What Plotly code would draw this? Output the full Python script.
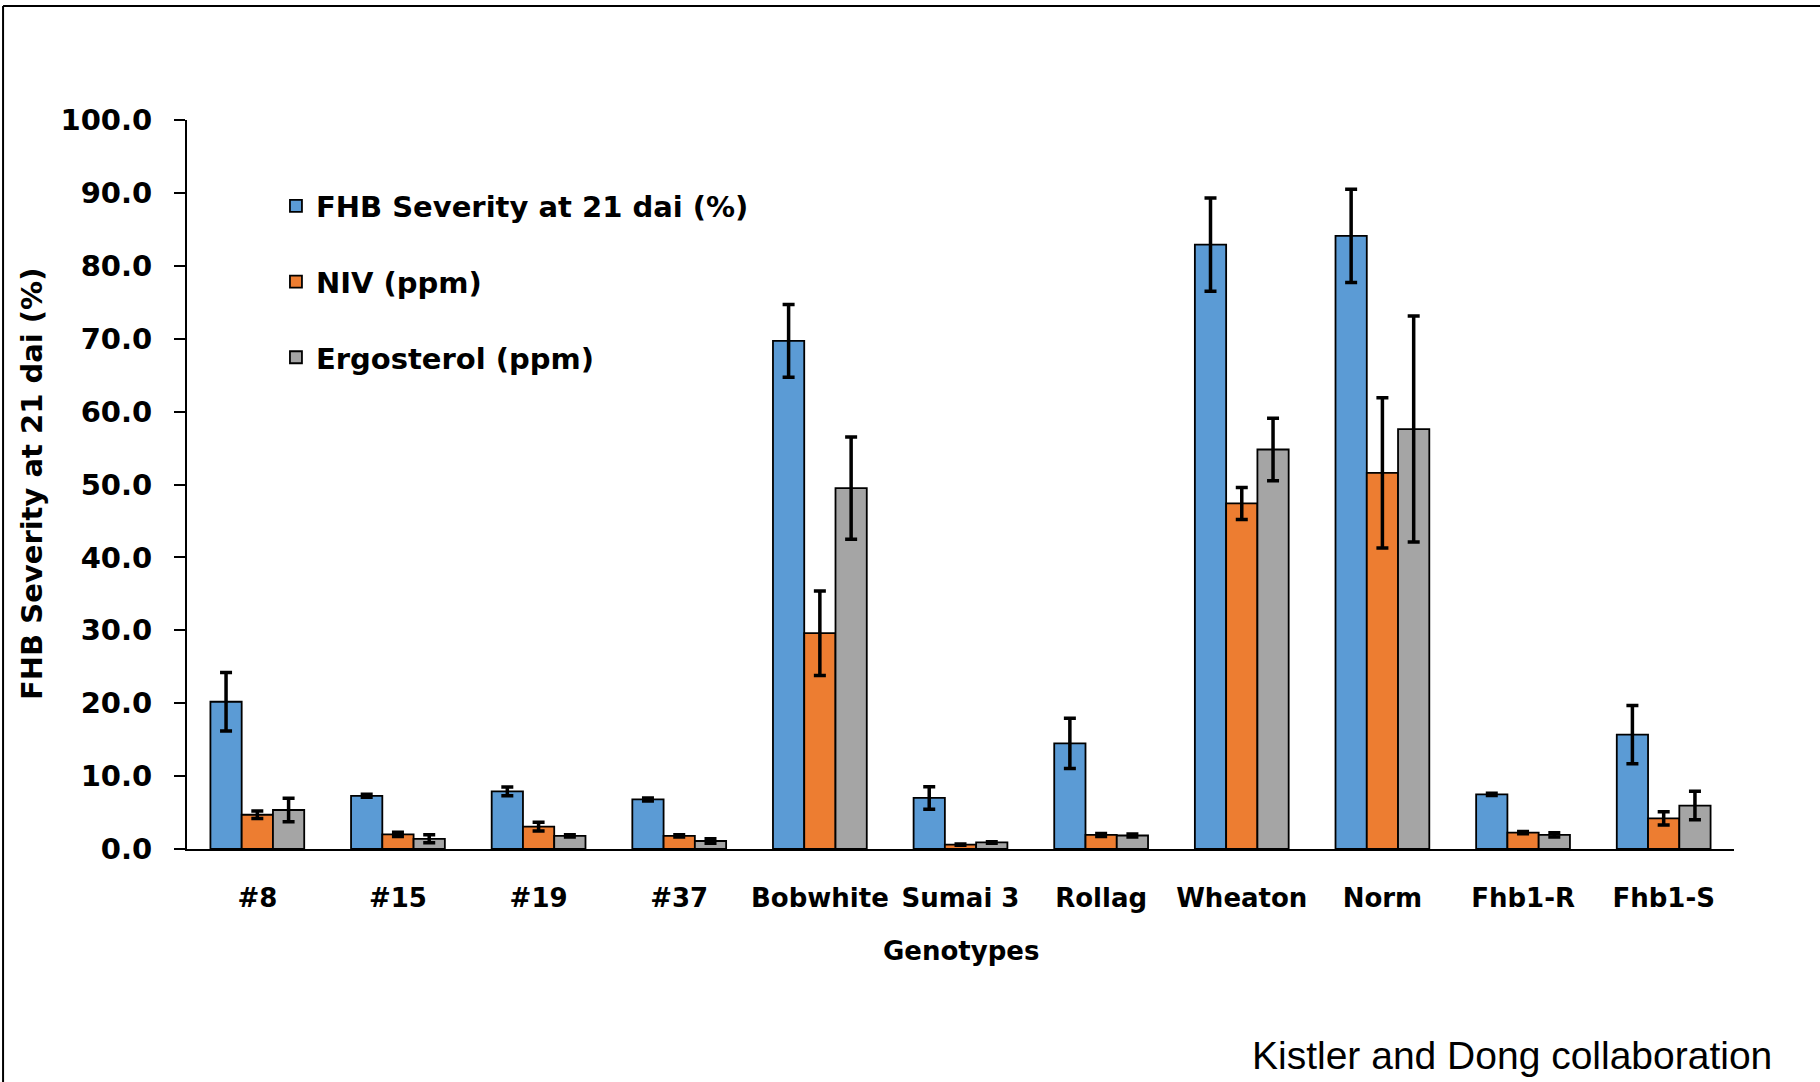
import plotly.graph_objects as go

categories = ["#8", "#15", "#19", "#37", "Bobwhite", "Sumai 3", "Rollag",
              "Wheaton", "Norm", "Fhb1-R", "Fhb1-S"]
series_names = ["FHB Severity at 21 dai (%)", "NIV (ppm)", "Ergosterol (ppm)"]
fhb = [20.2, 7.3, 7.9, 6.8, 69.7, 7.0, 14.5, 82.9, 84.1, 7.5, 15.7]
fhb_err = [4.0, 0.2, 0.6, 0.2, 5.0, 1.55, 3.45, 6.4, 6.4, 0.15, 4.0]
niv = [4.7, 2.0, 3.06, 1.8, 29.6, 0.6, 1.93, 47.4, 51.6, 2.25, 4.2]
niv_err = [0.5, 0.3, 0.6, 0.15, 5.8, 0.1, 0.2, 2.2, 10.3, 0.15, 0.9]
erg = [5.35, 1.4, 1.8, 1.1, 49.5, 0.9, 1.85, 54.8, 57.6, 1.93, 5.96]
erg_err = [1.6, 0.55, 0.15, 0.3, 7.0, 0.1, 0.2, 4.3, 15.5, 0.3, 1.95]
colors = ["#5B9BD5", "#ED7D31", "#A5A5A5"]

y_ticks = [0, 10, 20, 30, 40, 50, 60, 70, 80, 90, 100]
x_title = "Genotypes"
y_title = "FHB Severity at 21 dai (%)"
note = "Kistler and Dong collaboration"

BOLD = dict(family="DejaVu Sans", size=26, color="black", weight=700)
BOLD29 = dict(family="DejaVu Sans", size=29, color="black", weight=700)

fig = go.Figure()
for i, (name, vals, errs) in enumerate(zip(series_names, [fhb, niv, erg], [fhb_err, niv_err, erg_err])):
    fig.add_trace(go.Bar(
        x=categories, y=vals, name=name, legendgroup=f"g{i}",
        marker=dict(color=colors[i], line=dict(color="black", width=1.8)),
        error_y=dict(type="data", array=errs, visible=True, color="black",
                     thickness=3.5, width=6),
    ))

fig.update_layout(
    width=1820, height=1082,
    margin=dict(l=187, r=86, t=120, b=233),
    paper_bgcolor="white", plot_bgcolor="white",
    barmode="group", bargap=0.333, bargroupgap=0,
    font=BOLD,
    showlegend=True,
    legend=dict(x=0.0575, y=0.917, xanchor="left", yanchor="top",
                font=BOLD29, tracegroupgap=35, bgcolor="rgba(0,0,0,0)"),
    xaxis=dict(showline=True, linecolor="black", linewidth=2, ticks="",
               showgrid=False, tickfont=BOLD, ticklabelstandoff=25,
               categoryorder="array", categoryarray=categories),
    yaxis=dict(range=[0, 100], tickvals=y_ticks, tickformat=".1f",
               showline=True, linecolor="black", linewidth=2,
               ticks="outside", ticklen=11, tickwidth=2, tickcolor="black",
               showgrid=False, zeroline=False,
               tickfont=BOLD29, ticklabelstandoff=16),
)

fig.add_annotation(text=x_title, xref="paper", yref="paper", x=0.5, y=-0.14,
                   xanchor="center", yanchor="middle", showarrow=False, font=BOLD)
fig.add_annotation(text=y_title, xref="paper", yref="paper", x=-0.1005, y=0.5,
                   xanchor="center", yanchor="middle", showarrow=False, textangle=-90,
                   font=BOLD29)
fig.add_annotation(text=note, xref="paper", yref="paper", x=1.0256, y=-0.2826,
                   xanchor="right", yanchor="middle", showarrow=False,
                   font=dict(family="Liberation Sans", size=39, color="black", weight=400))

# outer frame (top and left edges of the chart area)
fig.add_shape(type="line", xref="paper", yref="paper", x0=-0.1189, x1=1.06,
              y0=1.1564, y1=1.1564, line=dict(color="black", width=2))
fig.add_shape(type="line", xref="paper", yref="paper", x0=-0.1189, x1=-0.1189,
              y0=1.1564, y1=-0.33, line=dict(color="black", width=2))

fig.write_html("out.html", config={"displayModeBar": False},
               post_script="document.body.style.margin='0';document.body.style.overflow='hidden';")
